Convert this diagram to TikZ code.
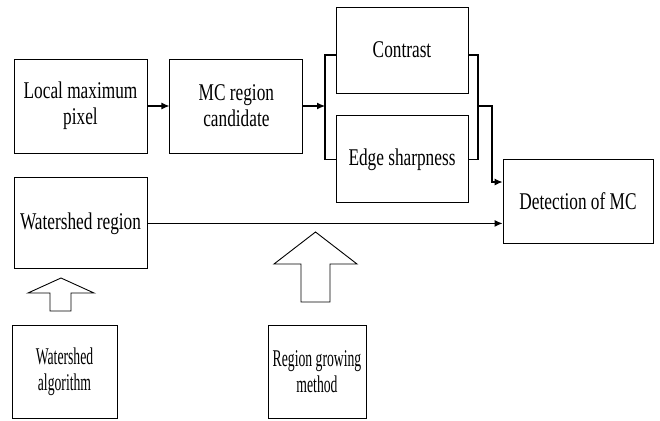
\documentclass[tikz,border=0pt]{standalone}
\usepackage{fontspec}
\setmainfont{Liberation Serif}[FakeStretch=0.72]
\newfontfamily\narrowrm{Liberation Serif}[FakeStretch=0.57]
\usetikzlibrary{arrows.meta,positioning,calc}
\tikzset{
    line/.style   = {draw=black, line width=1.1pt},
    arrow/.style  = {line, -{Latex[length=8pt,width=7pt]}},
    block/.style  = {draw=black, line width=0.9pt, fill=white,
            minimum width=133pt, minimum height=94pt, inner sep=1pt,
            align=center, font=\fontsize{24}{26}\selectfont},
    hollow/.style = {draw=black, line width=0.9pt, fill=white},
}
\begin{document}
\begin{tikzpicture}[x=1pt, y=-1pt, node distance=22pt and 22pt]
    \useasboundingbox (0,0) rectangle (660,420);
    % Nodes
    \node[block] (lmp) at (80.5,106) {Local maximum\\ pixel};
    \node[block, right=of lmp] (mcc) {MC region\\ candidate};
    \node[block, minimum width=132pt, minimum height=86pt] (con) at (402,50) {Contrast};
    \node[block, minimum width=132pt, minimum height=87pt, below=of con] (edge) {Edge sharpness};
    \node[block, minimum width=150pt, minimum height=84pt] (det) at (578,201) {Detection of MC};
    \node[block, minimum height=91pt, below=24pt of lmp] (wsr) {Watershed region};
    \node[block, minimum width=105pt, minimum height=93pt,
          font=\fontsize{24}{26}\narrowrm] (wsa) at (64.5,371.5) {Watershed\\ algorithm};
    \node[block, minimum width=98pt, minimum height=93pt,
          font=\fontsize{24}{26}\narrowrm] (rgm) at (317,371.5) {Region growing\\ method};
    \coordinate (lbr) at (325,106); % left bracket
    \coordinate (rbr) at (478,106); % right bracket

    % Arrows
    \draw[arrow] (lmp) -- (mcc);
    \draw[arrow] (mcc.east) -- (lbr);
    \draw[line] ([yshift=-5pt]con.west) -| (lbr) |- (edge.west);
    \draw[line] ([yshift=-5pt]con.east) -| (rbr) |- (edge.east);
    \draw[arrow] (rbr) -- ++(14,0) |- ([yshift=19pt]det.west);
    \draw[arrow] (wsr.east) -- (wsr.east -| det.west);

    % hollow arrows
    \draw[hollow] (50,311) -- (50,293) -- (28,293) -- (61,278)
        -- (94,293) -- (71,293) -- (71,311) -- cycle;
    \draw[hollow] (301,302) -- (301,264) -- (274,264) -- (315.5,232)
        -- (357,264) -- (330,264) -- (330,302) -- cycle;
\end{tikzpicture}
\end{document}
